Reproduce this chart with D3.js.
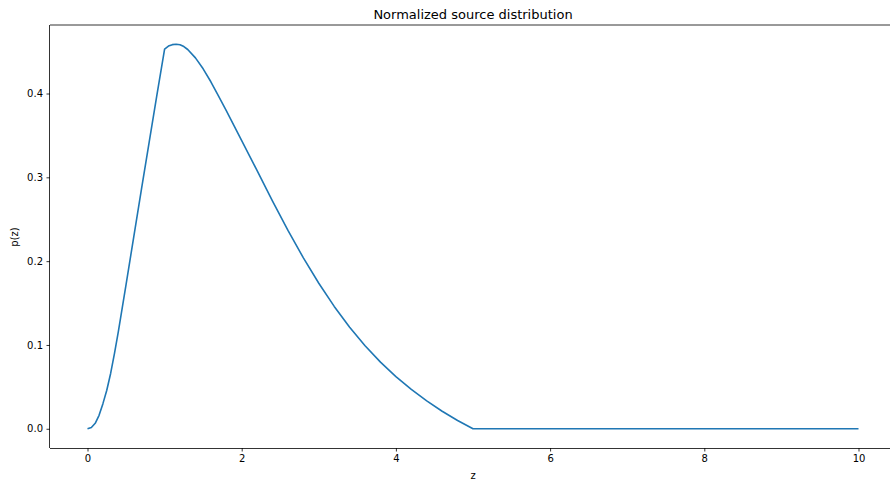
<!DOCTYPE html>
<meta charset="utf-8">
<head>
    <title>Normalized source distribution</title>
    <script src="https://d3js.org/d3.v7.min.js"></script>
    <style>
        body { margin: 0; background: #fff; font-family: 'DejaVu Sans', sans-serif; }
        svg { display: block; }
        .axis text { font-size: 10px; fill: #000; font-family: 'DejaVu Sans', sans-serif; }
        .axis path, .axis line { stroke: #000; stroke-width: 0.8; }
        text.title { font-size: 13px; }
        text.label { font-size: 10px; }
        .curve { fill: none; stroke: #1f77b4; stroke-width: 1.6; stroke-linejoin: round; }
    </style>
</head>
<body>
<svg width="890" height="481"></svg>
<script>
    // values
    const zValues = [0, 0.05, 0.1, 0.15, 0.2, 0.25, 0.3, 0.35, 0.4, 0.5, 0.6, 0.7, 0.8, 0.9, 1.0,
        1.05, 1.1, 1.15, 1.2, 1.25, 1.3, 1.4, 1.5, 1.6, 1.7, 1.8, 1.9, 2.0,
        2.2, 2.4, 2.6, 2.8, 3.0, 3.2, 3.4, 3.6, 3.8, 4.0, 4.2, 4.4, 4.6, 4.8, 5.0,
        6, 7, 8, 9, 10];
    const pValues = [0, 0.0015, 0.0065, 0.016, 0.030, 0.046, 0.066, 0.090, 0.116, 0.172, 0.229, 0.286, 0.342, 0.398, 0.453,
        0.4566, 0.4583, 0.4588, 0.4582, 0.4560, 0.4525, 0.4425, 0.4295, 0.4140, 0.3970, 0.3795, 0.3618, 0.3439,
        0.3079, 0.2717, 0.2367, 0.2039, 0.1736, 0.1460, 0.1212, 0.0991, 0.0795, 0.0622, 0.0469, 0.0332, 0.0209, 0.0099, 0,
        0, 0, 0, 0, 0];
    const xTicks = [0, 2, 4, 6, 8, 10];
    const yTicks = [0.0, 0.1, 0.2, 0.3, 0.4];

    const svg = d3.select('svg');
    const plotLeft = 50, plotTop = 25, plotBottom = 448;
    const x0 = 87.5, pxPerUnit = 77.1;

    const xScale = d3.scaleLinear()
        .domain([-0.5, 10.5])
        .range([x0 - 0.5 * pxPerUnit, x0 + 10.5 * pxPerUnit]);

    const pMax = d3.max(pValues);
    const yScale = d3.scaleLinear()
        .domain([-0.05 * pMax, pMax * 1.05])
        .range([plotBottom, plotTop]);

    const chart = svg.append('g');

    chart.append('g')
        .attr('class', 'axis')
        .attr('transform', `translate(0, ${plotBottom})`)
        .call(d3.axisBottom(xScale).tickValues(xTicks).tickSize(3.5).tickPadding(3.5).tickFormat(d3.format('d')))
        .call(g => g.select('.domain').attr('d', `M${plotLeft},0.5H890`));

    chart.append('g')
        .attr('class', 'axis')
        .attr('transform', `translate(${plotLeft}, 0)`)
        .call(d3.axisLeft(yScale).tickValues(yTicks).tickSize(3.5).tickPadding(3.5).tickFormat(d3.format('.1f')))
        .call(g => g.select('.domain').attr('d', `M-0.5,${plotBottom}V${plotTop}`));

    // top spine
    chart.append('line')
        .attr('x1', plotLeft).attr('x2', 890)
        .attr('y1', plotTop).attr('y2', plotTop)
        .attr('stroke', '#000').attr('stroke-width', 0.8);

    const line = d3.line()
        .x((d, i) => xScale(zValues[i]))
        .y(d => yScale(d));

    chart.append('path')
        .datum(pValues)
        .attr('class', 'curve')
        .attr('d', line);

    svg.append('text')
        .attr('class', 'title')
        .attr('x', 473)
        .attr('y', 19)
        .attr('text-anchor', 'middle')
        .text('Normalized source distribution');

    svg.append('text')
        .attr('class', 'label')
        .attr('x', 473)
        .attr('y', 479)
        .attr('text-anchor', 'middle')
        .text('z');

    svg.append('text')
        .attr('class', 'label')
        .attr('transform', 'translate(18, 237) rotate(-90)')
        .attr('text-anchor', 'middle')
        .text('p(z)');
</script>
</body>
